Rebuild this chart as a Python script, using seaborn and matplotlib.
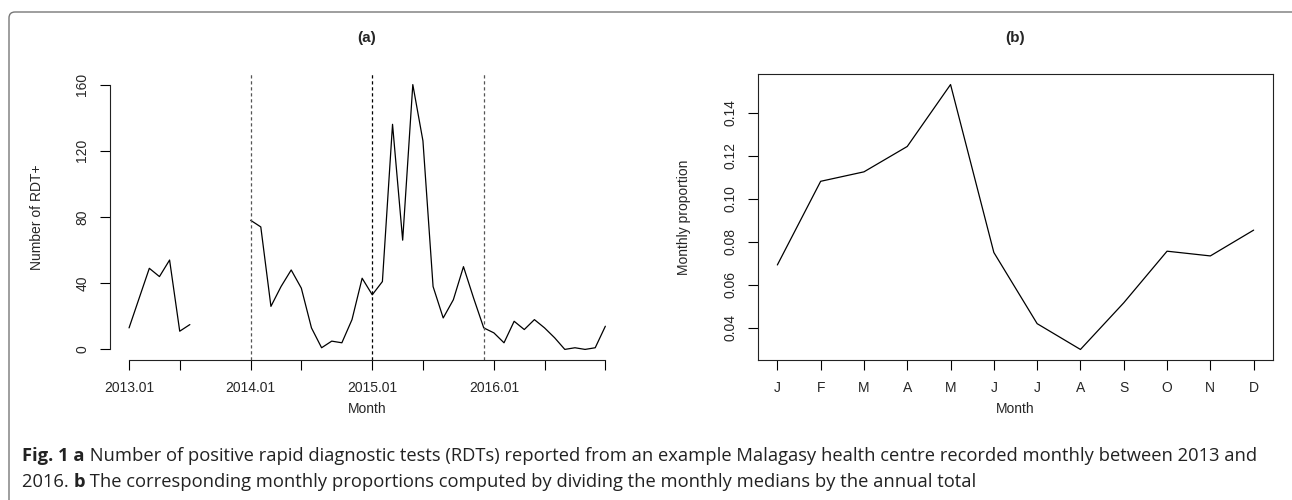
import numpy as np
import pandas as pd
import matplotlib.pyplot as plt
from matplotlib.patches import FancyBboxPatch
from matplotlib.transforms import IdentityTransform
import seaborn as sns

nan = np.nan

# (a) monthly RDT+ counts, 2013.01 - 2016.12 (nan = month not reported)
rdt_counts = [13, 31, 49, 44, 54, 11, 15, nan, nan, nan, nan, nan,
              78, 74, 26, 38, 48, 37, 13, 1, 5, 4, 18, 43,
              33, 41, 136, 66, 160, 126, 38, 19, 30, 50, 31, 13,
              10, 4, 17, 12, 18, 13, 7, 0, 1, 0, 1, 14]
tick_months = [1, 6, 13, 18, 25, 30, 37, 42, 48]
tick_labels = ['2013.01', '', '2014.01', '', '2015.01', '', '2016.01', '', '']
season_breaks = [13, 25, 36]

# (b) monthly proportions
month_letters = ['J', 'F', 'M', 'A', 'M', 'J', 'J', 'A', 'S', 'O', 'N', 'D']
month_prop = [0.0692, 0.1081, 0.1125, 0.1243, 0.1531, 0.0750,
              0.0419, 0.0299, 0.0516, 0.0756, 0.0734, 0.0854]
prop_ticks = [0.04, 0.06, 0.08, 0.10, 0.12, 0.14]

caption_1 = [('Fig. 1 a', 'bold'),
             (' Number of positive rapid diagnostic tests (RDTs) reported from an example '
              'Malagasy health centre recorded monthly between 2013 and', 'normal')]
caption_2 = [('2016. ', 'normal'), ('b', 'bold'),
             (' The corresponding monthly proportions computed by dividing the monthly '
              'medians by the annual total', 'normal')]

sns.set_style('ticks')
plt.rcParams['font.family'] = ['Liberation Sans', 'DejaVu Sans']

W, H = 1292, 500
fig = plt.figure(figsize=(W / 100, H / 100), dpi=100)

#%%
# building the tables
counts = pd.DataFrame({'month': np.arange(1, len(rdt_counts) + 1), 'n': rdt_counts})
# segment id so the missing months break the line
counts['seg'] = counts['n'].isna().cumsum()
counts = counts.dropna()
props = pd.DataFrame({'m': np.arange(1, 13), 'p': month_prop})

def style_axis(ax):
    ax.tick_params(direction='out', length=7, width=0.8, color='black',
                   labelsize=10, pad=8)
    ax.tick_params(axis='y', labelrotation=90)
    for t in ax.get_yticklabels():
        t.set_va('center')
    for s in ax.spines.values():
        s.set_linewidth(0.8)
        s.set_color('#222222')

#%%
# panel (a)
ax1 = fig.add_axes([110 / W, 1 - 360 / H, 514.4 / W, 286 / H])
sns.lineplot(data=counts, x='month', y='n', units='seg', estimator=None,
             color='black', linewidth=0.9, ax=ax1)
for i, m in enumerate(season_breaks):
    ax1.axvline(m, color='black' if i == 1 else '#555555', linestyle=(0, (2.6, 2.2)),
                linewidth=0.9)
ax1.set_xlim(1 - 1.88, 48 + 1.88)
ax1.set_ylim(-6.4, 166.4)
ax1.set_xticks(tick_months)
ax1.set_xticklabels(tick_labels)
ax1.set_yticks([0, 40, 80, 120, 160])
ax1.spines['top'].set_visible(False)
ax1.spines['right'].set_visible(False)
ax1.spines['left'].set_bounds(0, 160)
ax1.spines['bottom'].set_bounds(1, 48)
style_axis(ax1)
ax1.set_xlabel('Month', fontsize=10)
ax1.set_ylabel('Number of RDT+', fontsize=10)
ax1.xaxis.set_label_coords(0.5, -49 / 286)
ax1.yaxis.set_label_coords(-73 / 514.4, 0.5)
ax1.xaxis.label.set_va('center')
ax1.yaxis.label.set_va('center')

#%%
# panel (b)
ax2 = fig.add_axes([758.3 / W, 1 - 360 / H, 514.4 / W, 286 / H])
sns.lineplot(data=props, x='m', y='p', color='black', linewidth=0.9, ax=ax2)
ax2.set_xlim(0.56, 12.44)
ax2.set_ylim(0.025, 0.158)
ax2.set_xticks(range(1, 13))
ax2.set_xticklabels(month_letters)
ax2.set_yticks(prop_ticks)
ax2.set_yticklabels([f'{v:.2f}' for v in prop_ticks])
style_axis(ax2)
ax2.set_xlabel('Month', fontsize=10)
ax2.set_ylabel('Monthly proportion', fontsize=10)
ax2.xaxis.set_label_coords(0.5, -49 / 286)
ax2.yaxis.set_label_coords(-74 / 514.4, 0.5)
ax2.xaxis.label.set_va('center')
ax2.yaxis.label.set_va('center')

fig.text(367 / W, 1 - 38 / H, '(a)', ha='center', va='center', fontsize=11, fontweight='bold')
fig.text(1015 / W, 1 - 38 / H, '(b)', ha='center', va='center', fontsize=11, fontweight='bold')

#%%
# caption, written piece by piece so bold and normal runs sit on one line
renderer = fig.canvas.get_renderer()

def write_line(runs, x0, y0, size):
    x = x0
    for txt, weight in runs:
        t = fig.text(x / W, 1 - y0 / H, txt, ha='left', va='baseline', fontsize=size,
                     fontweight=weight, family=['Open Sans', 'DejaVu Sans'], color='#222222')
        bb = t.get_window_extent(renderer)
        x += bb.width
    return x

cap_size = 13.2
write_line(caption_1, 22, 461, cap_size)
write_line(caption_2, 22, 487, cap_size)

# outer frame
frame = FancyBboxPatch((9, -20), 1310, 500 - 12 + 20, boxstyle='round,pad=0,rounding_size=6',
                       transform=IdentityTransform(), facecolor='none', edgecolor='#777777',
                       linewidth=1.0, clip_on=False)
fig.add_artist(frame)

fig.savefig('out.png', dpi=100)
